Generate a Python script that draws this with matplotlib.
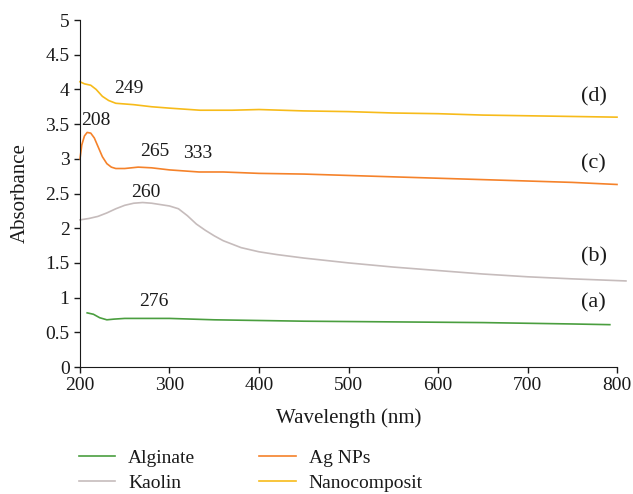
import matplotlib
matplotlib.use("Agg")
import matplotlib.pyplot as plt

plt.rcParams['font.family'] = ['Liberation Serif', 'DejaVu Serif']

# ---- data ----
alg_wl = [208, 215, 222, 230, 238, 250, 275, 300, 325, 350, 400, 450, 500, 550, 600, 650, 700, 750, 792]
alg_ab = [0.78, 0.76, 0.71, 0.68, 0.69, 0.70, 0.70, 0.70, 0.69, 0.68, 0.67, 0.66, 0.655, 0.65, 0.645, 0.64, 0.63, 0.62, 0.61]

kao_wl = [200, 210, 220, 230, 240, 250, 260, 270, 280, 290, 300, 310, 320, 330, 340, 350, 360, 370, 380,
          400, 420, 450, 500, 550, 600, 650, 700, 750, 810]
kao_ab = [2.12, 2.14, 2.17, 2.22, 2.28, 2.33, 2.36, 2.37, 2.36, 2.34, 2.32, 2.28, 2.18, 2.06, 1.97, 1.89, 1.82, 1.77, 1.72,
          1.66, 1.62, 1.57, 1.50, 1.44, 1.39, 1.34, 1.30, 1.27, 1.24]

ag_wl = [200, 202, 205, 208, 212, 216, 220, 225, 230, 235, 240, 250, 265, 280, 300, 333, 360, 400, 450,
         500, 550, 600, 650, 700, 750, 800]
ag_ab = [3.0, 3.2, 3.33, 3.38, 3.37, 3.3, 3.18, 3.03, 2.93, 2.88, 2.86, 2.86, 2.88, 2.87, 2.84, 2.81, 2.81, 2.79, 2.78,
         2.76, 2.74, 2.72, 2.70, 2.68, 2.66, 2.63]

nc_wl = [200, 205, 212, 218, 225, 232, 240, 250, 260, 280, 300, 334, 370, 400, 450, 500, 550, 600, 650, 700, 750, 800]
nc_ab = [4.11, 4.08, 4.06, 4.0, 3.9, 3.84, 3.80, 3.79, 3.78, 3.75, 3.73, 3.70, 3.70, 3.71, 3.69, 3.68, 3.66, 3.65,
         3.63, 3.62, 3.61, 3.60]

series_names = ["Alginate", "Kaolin", "Ag NPs", "Nanocomposit"]
colors = ["#4a9e3f", "#c6bcbc", "#f5822a", "#f7bb1a"]

peak_labels = ["249", "208", "265", "333", "260", "276"]
peak_pos = [(254, 4.02), (218, 3.55), (283, 3.10), (331, 3.07), (274, 2.51), (282, 0.94)]

curve_labels = ["(d)", "(c)", "(b)", "(a)"]
curve_pos = [(774, 3.89), (774, 2.92), (774, 1.58), (774, 0.92)]

x_ticks = [200, 300, 400, 500, 600, 700, 800]
y_ticks = [0, 0.5, 1, 1.5, 2, 2.5, 3, 3.5, 4, 4.5, 5]
y_tick_labels = ["0", "0.5", "1", "1.5", "2", "2.5", "3", "3.5", "4", "4.5", "5"]

# ---- plot ----
TXT = "#1a1a1a"
fig = plt.figure(figsize=(6.33, 4.94), dpi=100)
ax = fig.add_axes([80 / 633, 1 - 367 / 494, (617 - 80) / 633, (367 - 20) / 494])

data = [(alg_wl, alg_ab), (kao_wl, kao_ab), (ag_wl, ag_ab), (nc_wl, nc_ab)]
for (wl, ab), name, c in zip(data, series_names, colors):
    ax.plot(wl, ab, color=c, lw=1.2, label=name, clip_on=False)

for t, (x, y) in zip(peak_labels, peak_pos):
    ax.text(x, y, t, ha="center", va="center", fontsize=14, color=TXT)
for t, (x, y) in zip(curve_labels, curve_pos):
    ax.text(x, y, t, ha="center", va="center", fontsize=16, color=TXT)

ax.set_xlim(200, 800)
ax.set_ylim(0, 5)
ax.set_xticks(x_ticks)
ax.set_yticks(y_ticks)
ax.set_yticklabels(y_tick_labels)
ax.tick_params(labelsize=14, length=4.5, width=1, colors=TXT, pad=3)
for s in ["top", "right"]:
    ax.spines[s].set_visible(False)
for s in ["left", "bottom"]:
    ax.spines[s].set_color(TXT)
ax.set_xlabel("Wavelength (nm)", fontsize=15, color=TXT)
ax.set_ylabel("Absorbance", fontsize=15, color=TXT)
ax.xaxis.set_label_coords(0.5, -0.118)
ax.yaxis.set_label_coords(-0.094, 0.5)

fig.legend(loc="upper left", bbox_to_anchor=(79 / 633, 1 - 449 / 494), ncol=2, frameon=False,
           borderpad=0, borderaxespad=0,
           fontsize=14, handlelength=1.86, handletextpad=0.67, columnspacing=3.3, labelspacing=0.4,
           labelcolor=TXT)

fig.savefig("out.png", dpi=100)
